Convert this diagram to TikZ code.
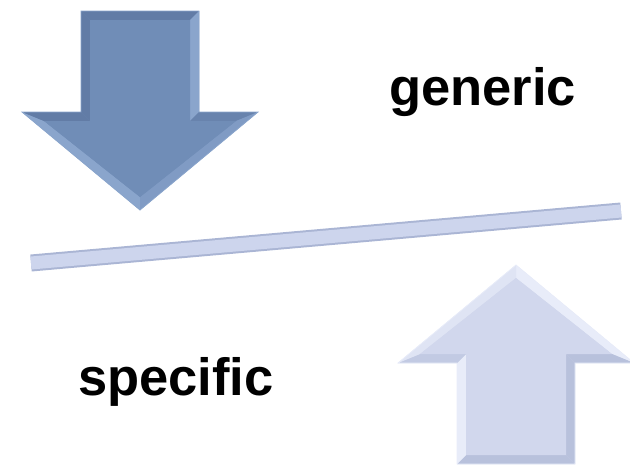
\documentclass[tikz,border=0pt]{standalone}
\usepackage{fontspec}
\setmainfont{Liberation Sans}
\usepackage{xcolor}
\usepackage{tikz}
\usetikzlibrary{positioning}
\definecolor{downFace}{RGB}{112,141,183}
\definecolor{downLight}{RGB}{138,165,204}
\definecolor{downDark}{RGB}{98,124,166}
\definecolor{upFace}{RGB}{209,215,237}
\definecolor{upLight}{RGB}{232,236,249}
\definecolor{upDark}{RGB}{184,193,220}
\definecolor{barFace}{RGB}{205,213,237}
\definecolor{barEdge}{RGB}{170,181,212}
\tikzset{
label text/.style = { font = \bfseries\fontsize{52.5}{60}\selectfont, inner sep = 0pt, text = black },
}
\tikzset{
pics/block arrow/.style args={#1, #2, #3}{
        code = {
        % outer outline, tip at (0,0), pointing up
        \path[fill = #1] (0, 0) -- (118, 98) -- (59, 98) -- (59, 199) -- (-59, 199) -- (-59, 98) -- (-118, 98) -- cycle;
        % bevel facets
        \path[fill = #2] (0, 0) -- (118, 98) -- (96, 89) -- (0, 13) -- cycle;
        \path[fill = #3] (118, 98) -- (59, 98) -- (50, 89) -- (96, 89) -- cycle;
        \path[fill = #3] (59, 98) -- (59, 199) -- (50, 190) -- (50, 89) -- cycle;
        \path[fill = #3] (59, 199) -- (-59, 199) -- (-50, 190) -- (50, 190) -- cycle;
        \path[fill = #2] (-59, 199) -- (-59, 98) -- (-50, 89) -- (-50, 190) -- cycle;
        \path[fill = #3!60!#1] (-59, 98) -- (-118, 98) -- (-96, 89) -- (-50, 89) -- cycle;
        \path[fill = #2!60!#1] (-118, 98) -- (0, 0) -- (0, 13) -- (-96, 89) -- cycle;
        % inner face
        \path[fill = #1] (0, 13) -- (96, 89) -- (50, 89) -- (50, 190) -- (-50, 190) -- (-50, 89) -- (-96, 89) -- cycle;
        \path[draw = #2, line width = 0.8pt] (0, 0) -- (118, 98) -- (59, 98) -- (59, 199) -- (-59, 199) -- (-59, 98) -- (-118, 98) -- cycle;
        }
    }
}
\begin{document}
\begin{tikzpicture}[x = 1pt, y = -1pt]
    \useasboundingbox (0, 0) rectangle (630, 464);
    \pic[rotate = 180] at (140, 210) {block arrow = {downFace, downLight, downDark}};
    \pic at (516, 265) {block arrow = {upFace, upLight, upDark}};
    \coordinate (bar left) at (31, 263);
    \coordinate (bar right) at (621, 211);
    \draw[barEdge, line width = 17pt] (bar left) -- (bar right);
    \draw[barFace, line width = 13pt] (bar left) -- (bar right);
    \node[label text, anchor = base west] (generic) at (389, 105) {generic};
    \node[label text, anchor = base west] (specific) at (78, 395) {specific};
\end{tikzpicture}
\end{document}
